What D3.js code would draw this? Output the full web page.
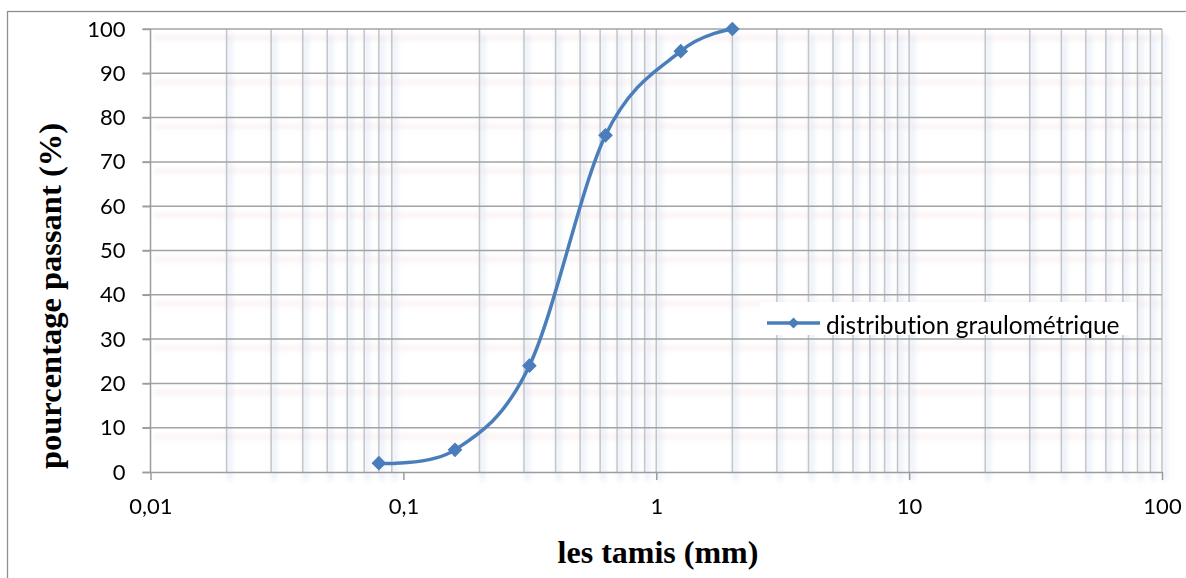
<!DOCTYPE html>
<html>
<head>
<meta charset="utf-8">
<script src="https://cdn.jsdelivr.net/npm/d3@7"></script>
<style>
  html, body { margin: 0; padding: 0; background: #fff; }
  svg { display: block; }
  text { font-variant-ligatures: none; font-feature-settings: "liga" 0; }
</style>
</head>
<body>
<div id="chart"></div>
<script>
// Sieve sizes (mm) and cumulative percentage passing
const sieveSizes = [0.08, 0.16, 0.315, 0.63, 1.25, 2];
const percentPassing = [2, 5, 24, 76, 95, 100];
const seriesName = "distribution graulométrique";

// Axis ticks
const xTickValues = [0.01, 0.1, 1, 10, 100];
const xTickLabels = ["0,01", "0,1", "1", "10", "100"];
const yTickValues = [0, 10, 20, 30, 40, 50, 60, 70, 80, 90, 100];

const xTitle = "les tamis (mm)";
const yTitle = "pourcentage passant (%)";

const W = 1186, H = 578;
const plot = { left: 150.5, right: 1162, top: 29, bottom: 472 };
const blue = "#4a7ebb";
const sans = "Lato, 'Open Sans', sans-serif";
const serif = "'Liberation Serif', 'Times New Roman', serif";

const svg = d3.select("#chart").append("svg")
  .attr("width", W).attr("height", H);

const defs = svg.append("defs");
defs.append("filter").attr("id", "soft")
  .attr("x", "-50%").attr("y", "-50%").attr("width", "200%").attr("height", "200%")
  .append("feGaussianBlur").attr("stdDeviation", 2.8);

svg.append("rect").attr("width", W).attr("height", H).attr("fill", "#fff");

// chart frame (runs off the right and bottom edges)
svg.append("rect")
  .attr("x", 7.5).attr("y", 11.5)
  .attr("width", W + 10).attr("height", H + 10)
  .attr("fill", "none").attr("stroke", "#8e8e8e").attr("stroke-width", 1.3);

const x = d3.scaleLog().domain([0.01, 100]).range([plot.left, plot.right]);
const y = d3.scaleLinear().domain([0, 100]).range([plot.bottom, plot.top]);

// vertical grid positions: minor steps in each decade plus the upper decades
const vGrid = [];
[0.01, 0.1, 1, 10].forEach(d => {
  for (let k = 2; k <= 9; k++) vGrid.push(+(d * k).toPrecision(3));
});
vGrid.push(1, 10, 100);

const hGrid = yTickValues.filter(v => v > 0);

// soft shadows under the gridlines
const shadow = svg.append("g").attr("filter", "url(#soft)")
  .attr("transform", "translate(3,9)");
shadow.selectAll("line.hs").data(hGrid).join("line")
  .attr("x1", plot.left).attr("x2", plot.right - 3)
  .attr("y1", d => y(d)).attr("y2", d => y(d))
  .attr("stroke", "#f3d6d6").attr("stroke-width", 4).attr("opacity", 0.4);
shadow.selectAll("line.vs").data(vGrid).join("line")
  .attr("x1", d => x(d)).attr("x2", d => x(d))
  .attr("y1", plot.top - 4).attr("y2", plot.bottom)
  .attr("stroke", "#d3e0f2").attr("stroke-width", 5).attr("opacity", 0.5);

// gridlines
const grid = svg.append("g");
grid.selectAll("line.v").data(vGrid).join("line")
  .attr("x1", d => x(d)).attr("x2", d => x(d))
  .attr("y1", plot.top).attr("y2", plot.bottom)
  .attr("stroke", "#c4c5c8").attr("stroke-width", 1.5);
grid.selectAll("line.h").data(hGrid).join("line")
  .attr("x1", plot.left - 8).attr("x2", plot.right)
  .attr("y1", d => y(d)).attr("y2", d => y(d))
  .attr("stroke", "#a3a3a3").attr("stroke-width", 1.5);

// axes
const axisColor = "#9c9c9c";
const xAxis = svg.append("g")
  .attr("transform", `translate(0,${plot.bottom})`)
  .call(d3.axisBottom(x).tickValues(xTickValues)
    .tickFormat((d, i) => xTickLabels[i]).tickSize(8).tickPadding(18));
xAxis.select(".domain").attr("stroke", axisColor).attr("stroke-width", 1.5)
  .attr("d", `M${plot.left - 8},0.5H${plot.right}`);
xAxis.selectAll(".tick line").attr("stroke", axisColor).attr("stroke-width", 1.5);
xAxis.selectAll(".tick text")
  .attr("font-family", sans).attr("font-size", 22).attr("fill", "#000");

const yAxis = svg.append("g")
  .attr("transform", `translate(${plot.left},0)`)
  .call(d3.axisLeft(y).tickValues(yTickValues).tickSize(8).tickPadding(17));
yAxis.select(".domain").attr("stroke", axisColor).attr("stroke-width", 1.5)
  .attr("d", `M0,${plot.top}V${plot.bottom}`);
yAxis.selectAll(".tick line").attr("stroke", axisColor).attr("stroke-width", 1.5);
yAxis.selectAll(".tick text")
  .attr("font-family", sans).attr("font-size", 22).attr("fill", "#000");

// axis titles
svg.append("text")
  .attr("x", 658).attr("y", 563)
  .attr("text-anchor", "middle")
  .attr("font-family", serif)
  .attr("font-weight", "bold").attr("font-size", 32)
  .text(xTitle);

svg.append("text")
  .attr("transform", "translate(61,296) rotate(-90)")
  .attr("text-anchor", "middle")
  .attr("font-family", serif)
  .attr("font-weight", "bold").attr("font-size", 32.5)
  .text(yTitle);

// smoothed grading curve
const pts = sieveSizes.map((s, i) => ({ s, p: percentPassing[i] }));
const line = d3.line()
  .x(d => x(d.s)).y(d => y(d.p))
  .curve(d3.curveCatmullRom.alpha(0));

svg.append("path").datum(pts)
  .attr("d", line)
  .attr("fill", "none").attr("stroke", blue)
  .attr("stroke-width", 3.5).attr("stroke-linejoin", "round");

const diamond = d3.symbol(d3.symbolSquare, 88);
svg.selectAll("path.marker").data(pts).join("path")
  .attr("class", "marker")
  .attr("d", diamond)
  .attr("transform", d => `translate(${x(d.s)},${y(d.p)}) rotate(45)`)
  .attr("fill", blue).attr("stroke", blue).attr("stroke-width", 1);

// legend
const legend = svg.append("g");
legend.append("rect")
  .attr("x", 760).attr("y", 302).attr("width", 376).attr("height", 33)
  .attr("fill", "#fff");
legend.append("line")
  .attr("x1", 767).attr("x2", 820).attr("y1", 323).attr("y2", 323)
  .attr("stroke", blue).attr("stroke-width", 3.5);
legend.append("path")
  .attr("d", d3.symbol(d3.symbolSquare, 60))
  .attr("transform", "translate(793.5,323) rotate(45)")
  .attr("fill", blue);
legend.append("text")
  .attr("x", 826).attr("y", 324)
  .attr("dominant-baseline", "central")
  .attr("font-family", sans)
  .attr("font-size", 24.5).attr("fill", "#000")
  .text(seriesName);
</script>
</body>
</html>
